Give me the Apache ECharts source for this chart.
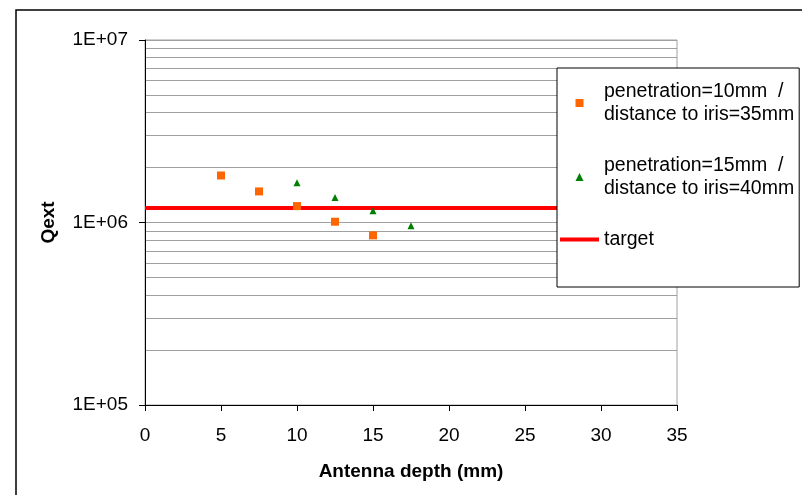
<!DOCTYPE html>
<html>
<head>
<meta charset="utf-8">
<script src="https://cdn.jsdelivr.net/npm/echarts@6/dist/echarts.min.js"></script>
<style>
  html, body { margin: 0; padding: 0; background: #fff; }
  #chart { width: 802px; height: 495px; }
</style>
</head>
<body>
<div id="chart"></div>
<script>
// ---- values ----
const depth10 = [5, 7.5, 10, 12.5, 15]
const qext10 = [1.81e6, 1.48e6, 1.23e6, 1.01e6, 8.5e5]
const depth15 = [10, 12.5, 15, 17.5]
const qext15 = [1.65e6, 1.37e6, 1.16e6, 9.6e5]
const targetDepth = [0, 35]
const targetQext = [1.2e6, 1.2e6]
const seriesNames = [
  'penetration=10mm  /\ndistance to iris=35mm',
  'penetration=15mm  /\ndistance to iris=40mm',
  'target'
]

const FONT = "'Liberation Sans', Arial, sans-serif"
const zip = (xs, ys) => xs.map((x, i) => [x, ys[i]])

const chart = echarts.init(document.getElementById('chart'))

chart.setOption({
  animation: false,
  textStyle: { fontFamily: FONT, color: '#000' },
  graphic: [{
    // outer chart frame (cut off at right/bottom in the reference)
    type: 'rect',
    shape: { x: 16, y: 10, width: 820, height: 520 },
    style: { fill: 'none', stroke: '#000', lineWidth: 1.5 },
    z: -10,
    silent: true
  }],
  grid: {
    left: 145, top: 40, right: 125, bottom: 90,
    show: true, borderColor: '#a0a0a0', borderWidth: 1, backgroundColor: '#fff'
  },
  legend: {
    orient: 'vertical',
    left: 557, top: 68,
    padding: [12, 5, 36, 3],
    itemWidth: 39, itemHeight: 8, itemGap: 28,
    borderColor: '#000', borderWidth: 1, backgroundColor: '#fff',
    selectedMode: false,
    textStyle: { fontFamily: FONT, fontSize: 19.5, lineHeight: 23, color: '#000' },
    data: [
      { name: seriesNames[0], icon: 'path://M0,0H10V10H0Z' },
      { name: seriesNames[1], icon: 'path://M5,0L10,10H0Z' },
      { name: seriesNames[2], icon: 'path://M0,0H39V4H0Z' }
    ]
  },
  xAxis: {
    type: 'value', min: 0, max: 35, interval: 5,
    name: 'Antenna depth (mm)', nameLocation: 'middle', nameGap: 57,
    nameTextStyle: { fontFamily: FONT, fontSize: 19, fontWeight: 'bold', color: '#000' },
    axisLine: { show: true, onZero: false, lineStyle: { color: '#000', width: 1 } },
    axisTick: { show: true, inside: false, length: 6, lineStyle: { color: '#000' } },
    axisLabel: { fontFamily: FONT, fontSize: 19, color: '#000', margin: 21 },
    splitLine: { show: false }
  },
  yAxis: {
    type: 'log', logBase: 10, min: 1e5, max: 1e7,
    name: 'Qext', nameLocation: 'middle', nameGap: 87,
    nameTextStyle: { fontFamily: FONT, fontSize: 19, fontWeight: 'bold', color: '#000' },
    axisLine: { show: true, lineStyle: { color: '#000', width: 1 } },
    axisTick: { show: true, inside: false, length: 6, lineStyle: { color: '#000' } },
    axisLabel: {
      fontFamily: FONT, fontSize: 19, color: '#000', margin: 17,
      formatter: v => '1E+' + String(Math.round(Math.log10(v))).padStart(2, '0')
    },
    splitLine: { show: true, lineStyle: { color: '#a0a0a0', width: 1 } },
    minorTick: { show: false, splitNumber: 9 },
    minorSplitLine: { show: true, lineStyle: { color: '#a0a0a0', width: 1 } }
  },
  series: [
    {
      name: seriesNames[0],
      type: 'scatter',
      data: zip(depth10, qext10),
      symbol: 'rect', symbolSize: 8,
      itemStyle: { color: '#ff6600', opacity: 1 },
      z: 4
    },
    {
      name: seriesNames[1],
      type: 'scatter',
      data: zip(depth15, qext15),
      symbol: 'triangle', symbolSize: 7,
      itemStyle: { color: '#008000', opacity: 1 },
      z: 4
    },
    {
      name: seriesNames[2],
      type: 'line',
      data: zip(targetDepth, targetQext),
      symbol: 'none',
      lineStyle: { color: '#ff0000', width: 4 },
      itemStyle: { color: '#ff0000' },
      z: 3
    }
  ]
})
</script>
</body>
</html>
